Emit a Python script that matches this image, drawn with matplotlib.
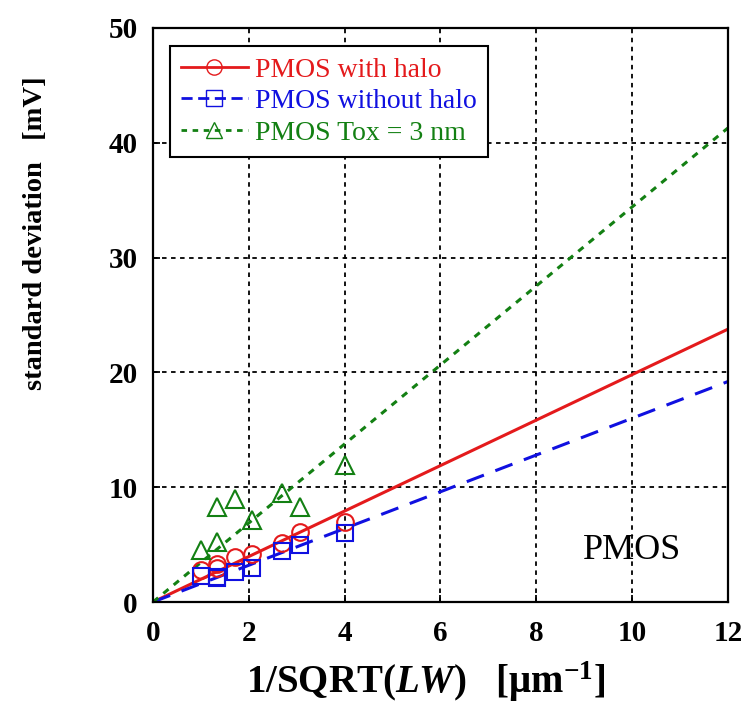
import matplotlib
matplotlib.use('Agg')
import matplotlib.pyplot as plt
import numpy as np

plt.rcParams['font.family'] = ['Liberation Serif', 'DejaVu Serif']
plt.rcParams['mathtext.fontset'] = 'custom'
plt.rcParams['mathtext.rm'] = 'Liberation Serif:bold'
plt.rcParams['mathtext.it'] = 'Liberation Serif:italic:bold'
plt.rcParams['mathtext.bf'] = 'Liberation Serif:bold'

# 测量点 (x = 1/sqrt(LW))
x_pts = [1.0, 1.33, 1.33, 1.71, 2.06, 2.7, 3.07, 4.0]
halo = [2.8, 3.0, 3.3, 3.95, 4.15, 5.1, 6.1, 7.0]
no_halo = [2.3, 2.1, 2.2, 2.65, 2.95, 4.4, 5.0, 6.0]
tox3 = [4.5, 5.2, 8.3, 9.0, 7.1, 9.5, 8.3, 11.9]

# 拟合直线的斜率 (过原点)
slope_halo = 1.98
slope_no_halo = 1.6
slope_tox3 = 3.44

red = '#e41a1c'
blue = '#1010e0'
green = '#138013'

fig = plt.figure(figsize=(7.48, 7.08), dpi=100)
ax = fig.add_axes([0.2045, 0.1497, 0.7685, 0.8108])

xl = np.array([0, 12])
ax.plot(xl, slope_halo * xl, '-', color=red, linewidth=2.2)
ax.plot(xl, slope_no_halo * xl, '--', color=blue, linewidth=2.2, dashes=(6, 4))
ax.plot(xl, slope_tox3 * xl, ':', color=green, linewidth=2.2, dashes=(2.2, 2.2))

ax.plot(x_pts, halo, 'o', mfc='none', mec=red, ms=12, mew=1.5)
ax.plot(x_pts, no_halo, 's', mfc='none', mec=blue, ms=12, mew=1.5)
ax.plot(x_pts, tox3, '^', mfc='none', mec=green, ms=13, mew=1.5)

# 图例用的代理线
h1, = ax.plot([], [], '-', color=red, marker='o', mfc='none', mec=red, ms=11, lw=2)
h2, = ax.plot([], [], '--', color=blue, marker='s', mfc='none', mec=blue, ms=11, lw=2, dashes=(4, 2))
h3, = ax.plot([], [], ':', color=green, marker='^', mfc='none', mec=green, ms=11, lw=2, dashes=(2, 2))
leg = ax.legend([h1, h2, h3], ['PMOS with halo', 'PMOS without halo', 'PMOS Tox = 3 nm'],
                loc='upper left', bbox_to_anchor=(0.0296, 0.9686), fontsize=20,
                fancybox=False, framealpha=1, edgecolor='black', handlelength=2.4,
                handletextpad=0.25, borderpad=0.4, labelspacing=0.22, borderaxespad=0)
leg.get_frame().set_linewidth(1.5)
for t, c in zip(leg.get_texts(), [red, blue, green]):
    t.set_color(c)

ax.text(10, 4.5, 'PMOS', fontsize=26, ha='center', va='center')

ax.set_xlim(0, 12)
ax.set_ylim(0, 50)
ax.set_xticks(range(0, 13, 2))
ax.set_yticks(range(0, 51, 10))
ax.grid(True, color='black', linestyle=(0, (2.5, 2.5)), linewidth=1.3)
ax.tick_params(direction='in', length=5, width=1.3, labelsize=21)
ax.tick_params(axis='x', pad=13)
ax.tick_params(axis='y', pad=11)
for lab in ax.get_xticklabels() + ax.get_yticklabels():
    lab.set_fontweight('bold')
for s in ax.spines.values():
    s.set_linewidth(1.6)

ax.set_xlabel(r'1/SQRT($\mathit{LW}$)   [μm$^{\mathrm{-1}}$]', fontsize=28, fontweight='bold')
ax.xaxis.set_label_coords(0.475, -0.1)
ax.set_ylabel('standard deviation   [mV]', fontsize=20.5, fontweight='bold')
ax.yaxis.set_label_coords(-0.183, 0.643)

plt.savefig('out.png', dpi=100)
